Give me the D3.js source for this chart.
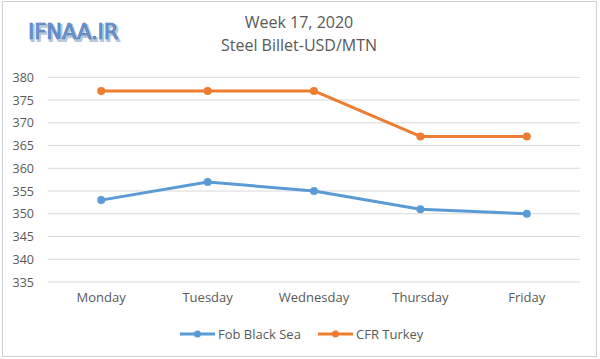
<!DOCTYPE html>
<html><head><meta charset="utf-8">
<script src="https://cdn.jsdelivr.net/npm/d3@7"></script>
<style>body{margin:0;background:#fff}svg{display:block}</style>
</head><body>
<svg id="chart" width="600" height="359"></svg>
<script>
const categories = ["Monday","Tuesday","Wednesday","Thursday","Friday"];
const fobBlackSea = [353, 357, 355, 351, 350];
const cfrTurkey = [377, 377, 377, 367, 367];
const yTicks = [335,340,345,350,355,360,365,370,375,380];
const seriesNames = ["Fob Black Sea","CFR Turkey"];
const colors = ["#5b9bd5","#ed7d31"];

const svg = d3.select("#chart");
const font = "'Open Sans', 'Noto Sans', sans-serif";
svg.append("rect").attr("x",2.5).attr("y",1.5).attr("width",594).attr("height",355)
  .attr("fill","#fff").attr("stroke","#d0d0d0");

const x = d3.scaleBand().domain(categories).range([48,580]);
const y = d3.scaleLinear().domain([335,380]).range([282,77.3]);

// gridlines
svg.append("g").selectAll("line").data(yTicks).join("line")
  .attr("x1",48).attr("x2",580).attr("y1",d=>y(d)).attr("y2",d=>y(d))
  .attr("stroke","#d9d9d9").attr("stroke-width",1);

// y axis
const yAxis = svg.append("g").attr("transform","translate(40,0)")
  .call(d3.axisLeft(y).tickValues(yTicks).tickSize(0).tickPadding(6));
yAxis.select(".domain").remove();
yAxis.selectAll("text").attr("fill","#595959").style("font-family",font).style("font-size","12.5px");

// x axis
const xAxis = svg.append("g").attr("transform","translate(0,290)")
  .call(d3.axisBottom(x).tickSize(0).tickPadding(3));
xAxis.select(".domain").remove();
xAxis.selectAll("text").attr("fill","#595959").style("font-family",font).style("font-size","13px");

const cx = d => x(d) + x.bandwidth()/2;
[fobBlackSea, cfrTurkey].forEach((vals,i)=>{
  const data = categories.map((c,j)=>({c, v: vals[j]}));
  svg.append("path").datum(data)
    .attr("fill","none").attr("stroke",colors[i]).attr("stroke-width",3)
    .attr("stroke-linejoin","round")
    .attr("d", d3.line().x(d=>cx(d.c)).y(d=>y(d.v)));
  svg.append("g").selectAll("circle").data(data).join("circle")
    .attr("cx",d=>cx(d.c)).attr("cy",d=>y(d.v)).attr("r",4).attr("fill",colors[i]);
});

// title
svg.append("text").attr("x",299).attr("y",28).attr("text-anchor","middle")
  .attr("fill","#595959").style("font-family",font).style("font-size","16px").text("Week 17, 2020");
svg.append("text").attr("x",299).attr("y",51).attr("text-anchor","middle")
  .attr("fill","#595959").style("font-family",font).style("font-size","16px").text("Steel Billet-USD/MTN");

// watermark
svg.append("text").attr("x",29.5).attr("y",40.5).attr("fill","none").attr("stroke","#b8c6da").attr("stroke-width",2)
  .style("font-family","'DejaVu Sans', sans-serif").style("font-size","21px")
  .text("IFNAA.IR");
svg.append("text").attr("x",28).attr("y",39).attr("fill","#6d97d2").attr("stroke","#4f78b8").attr("stroke-width",0.7)
  .style("font-family","'DejaVu Sans', sans-serif").style("font-size","21px")
  .text("IFNAA.IR");

// legend
const legX = [180, 318];
seriesNames.forEach((n,i)=>{
  const g = svg.append("g").attr("transform",`translate(${legX[i]},334)`);
  g.append("line").attr("x1",0).attr("x2",35).attr("y1",0).attr("y2",0)
    .attr("stroke",colors[i]).attr("stroke-width",3);
  g.append("circle").attr("cx",17.5).attr("cy",0).attr("r",3.5).attr("fill",colors[i]);
  g.append("text").attr("x",38).attr("y",4.5).attr("fill","#595959")
    .style("font-family",font).style("font-size","13px").text(n);
});
</script>
</body></html>
